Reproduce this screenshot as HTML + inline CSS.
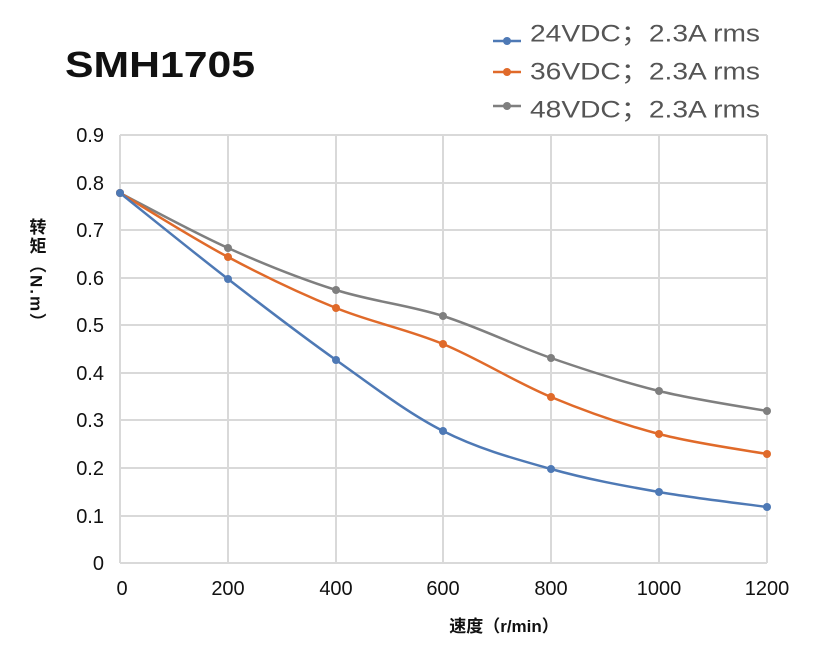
<!DOCTYPE html>
<html><head><meta charset="utf-8"><style>
body{margin:0;background:#fff;width:831px;height:660px;overflow:hidden}
text{font-family:"Liberation Sans","Noto Sans CJK SC",sans-serif}
</style></head><body>
<svg id="s" width="831" height="660" xmlns="http://www.w3.org/2000/svg">
<g stroke="#d9d9d9" stroke-width="2" fill="none">
<line x1="120" y1="135" x2="767" y2="135"/><line x1="120" y1="183" x2="767" y2="183"/>
<line x1="120" y1="230" x2="767" y2="230"/><line x1="120" y1="278" x2="767" y2="278"/>
<line x1="120" y1="325" x2="767" y2="325"/><line x1="120" y1="373" x2="767" y2="373"/>
<line x1="120" y1="420" x2="767" y2="420"/><line x1="120" y1="468" x2="767" y2="468"/>
<line x1="120" y1="516" x2="767" y2="516"/><line x1="120" y1="563" x2="767" y2="563"/>
<line x1="120" y1="135" x2="120" y2="563"/><line x1="228" y1="135" x2="228" y2="563"/>
<line x1="336" y1="135" x2="336" y2="563"/><line x1="443" y1="135" x2="443" y2="563"/>
<line x1="551" y1="135" x2="551" y2="563"/><line x1="659" y1="135" x2="659" y2="563"/>
<line x1="767" y1="135" x2="767" y2="563"/>
</g>
<g font-size="20" fill="#111" text-anchor="end">
<text x="104" y="142">0.9</text><text x="104" y="190">0.8</text><text x="104" y="237">0.7</text>
<text x="104" y="285">0.6</text><text x="104" y="332">0.5</text><text x="104" y="380">0.4</text>
<text x="104" y="427">0.3</text><text x="104" y="475">0.2</text><text x="104" y="523">0.1</text>
<text x="104" y="570">0</text>
</g>
<g font-size="20" fill="#111" text-anchor="middle">
<text x="122" y="595">0</text><text x="228" y="595">200</text><text x="336" y="595">400</text>
<text x="443" y="595">600</text><text x="551" y="595">800</text><text x="659" y="595">1000</text>
<text x="767" y="595">1200</text>
</g>
<text x="504" y="632" font-size="17" font-weight="bold" text-anchor="middle" fill="#111">速度（r/min）</text>
<text x="36" y="218" font-size="17" font-weight="bold" fill="#111" letter-spacing="2" style="writing-mode:vertical-rl">转矩（N.m）</text>
<text x="65" y="77" font-size="36" font-weight="bold" fill="#111" textLength="190" lengthAdjust="spacingAndGlyphs">SMH1705</text>
<g font-size="24" fill="#555">
<line x1="493" y1="41" x2="521" y2="41" stroke="#4e79b5" stroke-width="2.5"/><circle cx="507" cy="41" r="4" fill="#4e79b5"/>
<text x="530" y="33" dy="0.35em" textLength="230" lengthAdjust="spacingAndGlyphs">24VDC；2.3A rms</text>
<line x1="493" y1="72" x2="521" y2="72" stroke="#e06a2a" stroke-width="2.5"/><circle cx="507" cy="72" r="4" fill="#e06a2a"/>
<text x="530" y="71" dy="0.35em" textLength="230" lengthAdjust="spacingAndGlyphs">36VDC；2.3A rms</text>
<line x1="493" y1="106" x2="521" y2="106" stroke="#7f7f7f" stroke-width="2.5"/><circle cx="507" cy="106" r="4" fill="#7f7f7f"/>
<text x="530" y="109" dy="0.35em" textLength="230" lengthAdjust="spacingAndGlyphs">48VDC；2.3A rms</text>
</g>
</svg>
<script>
var s=document.getElementById('s'),xs=[120,228,336,443,551,659,767];
var data=[["#7f7f7f",[193,248,290,316,358,391,411]],["#e06a2a",[193,257,308,344,397,434,454]],["#4e79b5",[193,279,360,431,469,492,507]]];
data.forEach(function(d){var p=xs.map(function(x,i){return [x,d[1][i]]});
var s2="M"+p[0];for(var i=0;i<p.length-1;i++){var a=p[i-1]||p[i],b=p[i],c=p[i+1],e=p[i+2]||c;
var c1=[b[0]+(c[0]-a[0])/6,b[1]+(c[1]-a[1])/6],c2=[c[0]-(e[0]-b[0])/6,c[1]-(e[1]-b[1])/6];
s2+="C"+c1+" "+c2+" "+c;}
var pa=document.createElementNS("http://www.w3.org/2000/svg","path");pa.setAttribute("d",s2);pa.setAttribute("fill","none");pa.setAttribute("stroke",d[0]);pa.setAttribute("stroke-width","2.5");s.appendChild(pa);
p.forEach(function(q){var c=document.createElementNS("http://www.w3.org/2000/svg","circle");c.setAttribute("cx",q[0]);c.setAttribute("cy",q[1]);c.setAttribute("r","4");c.setAttribute("fill",d[0]);s.appendChild(c);});});
</script>
</body></html>
